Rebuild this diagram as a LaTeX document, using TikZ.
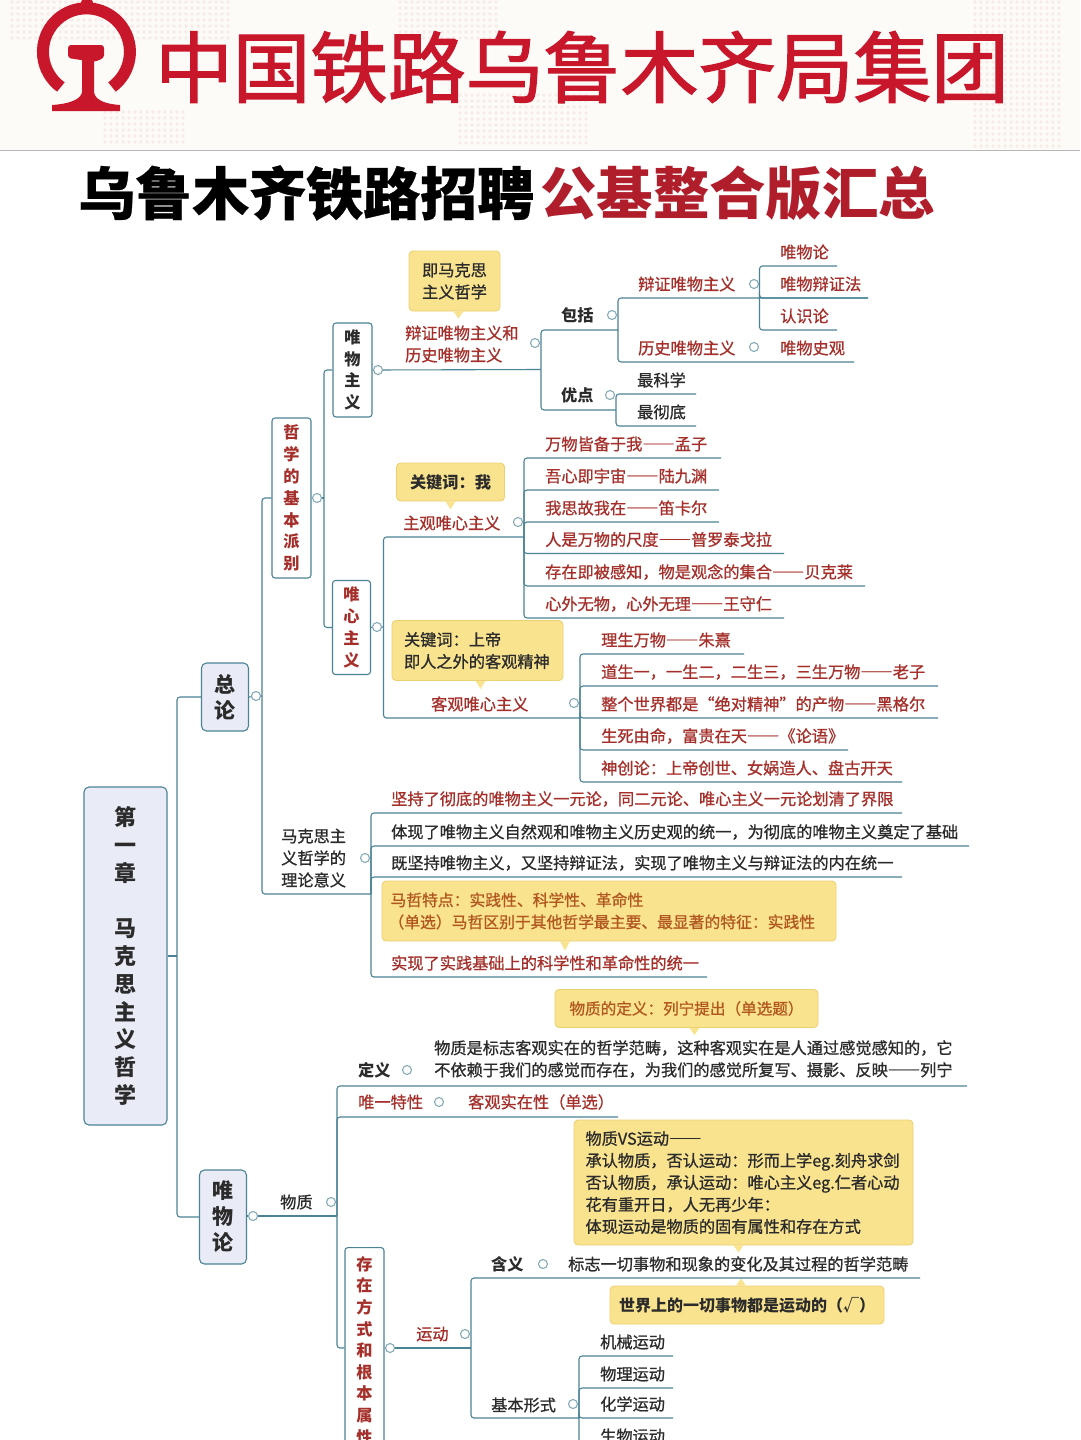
\documentclass[tikz,border=0pt]{standalone}
\usepackage{fontspec}
\setmainfont{Noto Sans CJK SC}[UprightFeatures={FakeBold=0.9}]
\newfontfamily\midfont{Noto Sans CJK SC}[FakeBold=1.6]
\newfontfamily\heavyfont{Noto Sans CJK SC}[BoldFeatures={FakeBold=0.5}]
\usetikzlibrary{calc}
\definecolor{railred}{HTML}{C8162B}
\definecolor{headred}{HTML}{B01E2C}
\definecolor{wordred}{HTML}{A5302B}
\definecolor{wordblack}{HTML}{2B2B2B}
\definecolor{notebrown}{HTML}{B2571F}
\definecolor{notefill}{HTML}{F9E38F}
\definecolor{noteline}{HTML}{EBCF70}
\definecolor{linkblue}{HTML}{4B8396}
\definecolor{boxfill}{HTML}{E9ECF7}
\definecolor{knobline}{HTML}{86AAB6}
\definecolor{headbg}{HTML}{FDFBF8}
\definecolor{headdot}{HTML}{F8EAE6}
\newcommand{\ldash}{{\addfontfeature{RawFeature=+fwid}——}}
\tikzset{
  branch/.style={draw=linkblue,line width=1.1pt,rounded corners=3pt},
  knob/.style={circle,draw=knobline,fill=white,line width=1.1pt,minimum size=9pt,inner sep=0pt},
  blk/.style={anchor=west,inner sep=0pt,text=wordblack,font=\fontsize{16.2}{22}\selectfont},
  rdw/.style={blk,text=wordred},
  topic/.style={rectangle,rounded corners=3pt,draw=linkblue,fill=white,line width=1.1pt,
    align=center,inner sep=0pt,font=\fontsize{16.2}{21.7}\selectfont\bfseries},
  mainbox/.style={topic,fill=boxfill,rounded corners=5pt,text=wordblack},
  note/.style={rectangle,rounded corners=4pt,draw=noteline,fill=notefill,line width=0.8pt,
    inner sep=0pt,text=wordblack,font=\fontsize{16.2}{22}\selectfont}
}
\begin{document}
\begin{tikzpicture}[x=1pt,y=-1pt]
\clip (0,0) rectangle (1080,1440);
\fill[white] (0,0) rectangle (1080,1440);

% header
\fill[headbg] (0,0) rectangle (1080,150);
\foreach \xa/\xb/\ya/\yb in {12/230/2/38,400/500/2/40,105/185/112/146,460/590/95/146,975/1060/2/146}{
  \foreach \dotx in {\xa,\the\numexpr\xa+6\relax,...,\xb}{
    \foreach \doty in {\ya,\the\numexpr\ya+6\relax,...,\yb}{
      \fill[headdot] (\dotx,\doty) circle (1.8);
    }
  }
}
\draw[black!28,line width=1pt] (0,150.5) -- (1080,150.5);
\draw[railred,line width=12pt] (112,87) arc[start angle=-54,end angle=234,radius=43.5pt];
\fill[railred] (78,10) -- (82,0) -- (92,0) -- (96,10) -- cycle;
\fill[railred,rounded corners=3pt] (68,58) -- (68,45) -- (104,45) -- (104,58) -- (94,62) -- cycle;
\fill[railred] (82,58) -- (94,58) -- (94,92) .. controls (95,100) and (105,104) .. (120,105)
  -- (120,111) -- (52,111) -- (52,105) .. controls (68,104) and (81,100) .. (82,92) -- cycle;
\node[anchor=west,inner sep=0pt,text=railred,font=\fontsize{77.6}{80}\midfont] (railname) at (155,67)
  {中国铁路乌鲁木齐局集团};
\node[anchor=west,inner sep=0pt,text=black,font=\fontsize{57}{60}\heavyfont\bfseries] (titleblk) at (78,193)
  {乌鲁木齐铁路招聘};
\node[anchor=west,inner sep=0pt,text=headred,font=\fontsize{56.4}{60}\selectfont\bfseries] (titlered) at (540,193)
  {公基整合版汇总};

% boxes
\node[mainbox,minimum width=83pt,minimum height=338pt,font=\fontsize{22}{27.75}\selectfont\bfseries] (chap) at (125.5,956)
  {第\\一\\章\\ \\马\\克\\思\\主\\义\\哲\\学};
\node[mainbox,minimum width=47pt,minimum height=68pt,font=\fontsize{21}{26}\selectfont\bfseries] (intro) at (225,697) {总\\论};
\node[mainbox,minimum width=47pt,minimum height=94pt,font=\fontsize{21}{26}\selectfont\bfseries] (mater) at (223,1217) {唯\\物\\论};
\node[topic,text=wordred,minimum width=39pt,minimum height=160pt,font=\fontsize{16.2}{21.9}\selectfont\bfseries] (basic) at (291.5,498) {哲\\学\\的\\基\\本\\派\\别};
\node[topic,text=wordblack,minimum width=39pt,minimum height=94pt] (wwzy) at (352.5,370) {唯\\物\\主\\义};
\node[topic,text=wordred,minimum width=38pt,minimum height=94pt,font=\fontsize{16.2}{21.9}\selectfont\bfseries] (wxzy) at (351.5,627.5) {唯\\心\\主\\义};
\node[topic,text=wordred,minimum width=39pt,anchor=north,minimum height=206pt,font=\fontsize{16.2}{21.6}\selectfont\bfseries] (exist) at (364.5,1247)
  {存\\在\\方\\式\\和\\根\\本\\属\\性};

% notes
\node[note,minimum width=91pt,minimum height=60pt,align=center] (nmake) at (454.5,281) {即马克思\\主义哲学};
\node[note,minimum width=108pt,minimum height=38pt,font=\fontsize{16.2}{22}\selectfont\bfseries] (nwo) at (450.5,482) {关键词：我};
\node[note,minimum width=171pt,minimum height=60pt,text width=147pt,align=left] (ngod) at (477.5,650.5)
  {关键词：上帝\\即人之外的客观精神};
\node[note,minimum width=454pt,minimum height=60pt,text width=441pt,align=left,text=notebrown,font=\fontsize{15.8}{22}\selectfont] (nmazhe) at (609,911)
  {\hspace*{2pt}马哲特点：实践性、科学性、革命性\\（单选）马哲区别于其他哲学最主要、最显著的特征：实践性};
\node[note,minimum width=263pt,minimum height=38pt,text=notebrown,font=\fontsize{15.6}{22}\selectfont] (ndef) at (686.5,1008.5) {物质的定义：列宁提出（单选题）};
\node[note,minimum width=339pt,minimum height=125pt,text width=316pt,align=left,
  font=\fontsize{16.2}{22}\selectfont] (nvs) at (743.5,1182.5)
  {物质VS运动\ldash\\承认物质，否认运动：形而上学eg.刻舟求剑\\否认物质，承认运动：唯心主义eg.仁者心动\\花有重开日，人无再少年：\\体现运动是物质的固有属性和存在方式};
\node[note,minimum width=274pt,minimum height=38pt,font=\fontsize{16}{22}\selectfont\bfseries] (nworld) at (747,1305)
  {世界上的一切事物都是运动的（√）};
\foreach \nm/\dx/\anc/\dy in {nmake/4/south/7,nwo/0/south/8,ngod/3/south/8,nmazhe/-44/south/9,ndef/8/south/7,nvs/-5/south/7,nworld/-6/north/-7}{
  \fill[notefill] ($(\nm.\anc)+(\dx-5,0)$) -- ($(\nm.\anc)+(\dx,\dy)$) -- ($(\nm.\anc)+(\dx+5,0)$) -- cycle;
}

% spine
\coordinate (spine) at (177,956);
\coordinate (trunkb) at (262,696);
\coordinate (trunkw) at (324,498);
\coordinate (trunkz) at (337,1216);
\draw[branch] (chap.east |- spine) -- (spine);
\draw[branch] (spine) |- (intro.west);
\draw[branch] (spine) |- (mater.west);
\draw[branch] (intro.east) -- (trunkb);
\draw[branch] (trunkb) |- (basic.west);
\draw[branch] (basic.east) -- (trunkw);
\draw[branch] (trunkw) |- (wwzy.west);
\draw[branch] (trunkw) |- (wxzy.west);
\draw[branch] (mater.east |- trunkz) -- (trunkz);
\draw[branch] (trunkz) |- (exist.west |- 0,1348);

% materialism
\node[rdw] (dial) at (405,333) {辩证唯物主义和};
\node[rdw] (hist) at (405,355) {历史唯物主义};
\coordinate (t1) at (541,369.5);
\draw[branch] (wwzy.east) -- (t1);
\node[blk,font=\fontsize{16.2}{22}\selectfont\bfseries] (incl) at (561,315) {包括};
\node[blk,font=\fontsize{16.2}{22}\selectfont\bfseries] (good) at (561,395) {优点};
\coordinate (inclend) at (618,330);
\coordinate (goodend) at (616,410);
\draw[branch] (t1) |- (inclend);
\draw[branch] (t1) |- (goodend);
\foreach \nm/\yy/\xe/\txt in {dmat/298/868/辩证唯物主义,hmat/362/854/历史唯物主义}{
  \coordinate (\nm e) at (\xe,\yy);
  \node[rdw] (\nm) at (638,\yy-14) {\txt};
  \draw[branch] (inclend) |- (\nm e);
}
\coordinate (matend) at (759.5,298);
\foreach \nm/\yy/\xe/\txt in {wul/266/837/唯物论,bzf/298/868/唯物辩证法,rsl/330/837/认识论}{
  \coordinate (\nm e) at (\xe,\yy);
  \node[rdw] (\nm) at (780,\yy-14) {\txt};
  \draw[branch] (matend) |- (\nm e);
}
\node[rdw] (wsg) at (780,348) {唯物史观};
\foreach \nm/\yy/\txt in {kex/394/最科学,chd/426/最彻底}{
  \coordinate (\nm e) at (696,\yy);
  \node[blk] (\nm) at (637,\yy-14) {\txt};
  \draw[branch] (goodend) |- (\nm e);
}

% idealism
\coordinate (t2) at (383.5,627);
\draw[branch] (wxzy.east) -- (t2);
\node[rdw] (zhug) at (403,523) {主观唯心主义};
\node[rdw] (kegu) at (431,704) {客观唯心主义};
\coordinate (zhugend) at (524,537);
\coordinate (keguend) at (580,718);
\draw[branch] (t2) |- (zhugend);
\draw[branch] (t2) |- (keguend);
\foreach \nm/\yy/\xe/\txt in {mz/458/721/万物皆备于我\ldash 孟子,ljy/490/719/吾心即宇宙\ldash 陆九渊,dk/522/719/我思故我在\ldash 笛卡尔,
  plt/553.5/784/人是万物的尺度\ldash 普罗泰戈拉,bk/586/865/存在即被感知，物是观念的集合\ldash 贝克莱,wsr/618/784/心外无物，心外无理\ldash 王守仁}{
  \coordinate (\nm e) at (\xe,\yy);
  \node[rdw] (\nm) at (545,\yy-14) {\txt};
  \draw[branch] (zhugend) |- (\nm e);
}
\foreach \nm/\yy/\xe/\txt in {zx/654/744/理生万物\ldash 朱熹,lz/686/938/道生一，一生二，二生三，三生万物\ldash 老子,hg/718/938/整个世界都是“绝对精神”的产物\ldash 黑格尔,
  ly/750/848/生死由命，富贵在天\ldash《论语》,scl/782/902/神创论：上帝创世、女娲造人、盘古开天}{
  \coordinate (\nm e) at (\xe,\yy);
  \node[rdw] (\nm) at (601,\yy-14) {\txt};
  \draw[branch] (keguend) |- (\nm e);
}

% marxism meaning
\node[blk,align=left] (mean) at (281,858) {马克思主\\义哲学的\\理论意义};
\coordinate (meanend) at (371,894);
\draw[branch] (trunkb) |- (meanend);
\foreach \nm/\yy/\xe/\col/\txt in {yi/813/902/wordred/坚持了彻底的唯物主义一元论，同二元论、唯心主义一元论划清了界限,
  tong/846/969/wordblack/体现了唯物主义自然观和唯物主义历史观的统一，为彻底的唯物主义奠定了基础,
  nei/877/902/wordblack/既坚持唯物主义，又坚持辩证法，实现了唯物主义与辩证法的内在统一,
  sj/977/707/wordred/实现了实践基础上的科学性和革命性的统一}{
  \coordinate (\nm e) at (\xe,\yy);
  \node[blk,text=\col] (\nm) at (391,\yy-14) {\txt};
  \draw[branch] (meanend) |- (\nm e);
}

% matter
\node[blk] (wuz) at (280,1202) {物质};
\node[blk,font=\fontsize{16.2}{22}\selectfont\bfseries] (defw) at (358,1070) {定义};
\node[blk,align=left] (deft) at (434,1059)
  {物质是标志客观实在的哲学范畴，这种客观实在是人通过感觉感知的，它\\不依赖于我们的感觉而存在，为我们的感觉所复写、摄影、反映\ldash 列宁};
\coordinate (defe) at (967,1086);
\coordinate (onee) at (618,1117);
\draw[branch] (trunkz) |- (defe);
\draw[branch] (trunkz) |- (onee);
\node[rdw] (wyt) at (358,1102) {唯一特性};
\node[rdw] (kgs) at (468,1102) {客观实在性（单选）};

% motion
\coordinate (t3) at (471,1348);
\draw[branch] (exist.east |- t3) -- (t3);
\node[rdw] (yund) at (416,1334) {运动};
\node[blk,font=\fontsize{16.2}{22}\selectfont\bfseries] (hany) at (491,1264) {含义};
\node[blk] (hant) at (568,1264) {标志一切事物和现象的变化及其过程的哲学范畴};
\node[blk] (jbxs) at (491,1405) {基本形式};
\coordinate (hane) at (920,1278);
\coordinate (jbe) at (579,1418);
\draw[branch] (t3) |- (hane);
\draw[branch] (t3) |- (jbe);
\foreach \nm/\yy/\xe/\txt in {jx/1356/673/机械运动,wl/1388/673/物理运动,hx/1418/673/化学运动,sw/1450/673/生物运动}{
  \coordinate (\nm e) at (\xe,\yy);
  \node[blk] (\nm) at (600,\yy-14) {\txt};
  \draw[branch] (jbe) |- (\nm e);
}

% knobs
\foreach \nm/\xx/\yy in {k1/256/696,k2/317/498,k3/378/370,k4/535/343,k5/612/315,k6/610/395,k7/754/284,k8/754/347,
  k9/518/522,k10/377/627,k11/574/703,k12/365/858,k13/407/1070,k14/439/1102,k15/331/1202,k16/253/1216,
  k17/390/1348,k18/465/1334,k19/543/1264,k20/573/1404}{
  \node[knob] (\nm) at (\xx,\yy) {};
}
\end{tikzpicture}
\end{document}
